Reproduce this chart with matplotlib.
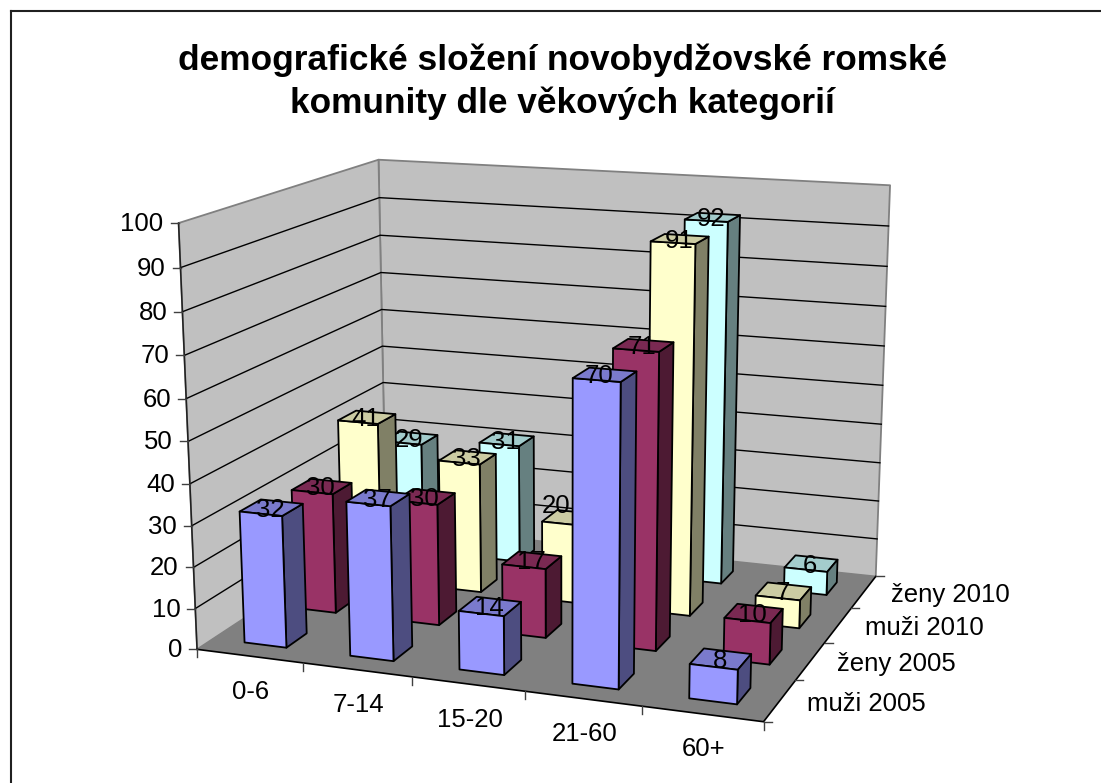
import numpy as np
import matplotlib
matplotlib.use("Agg")
import matplotlib.pyplot as plt
from mpl_toolkits.mplot3d.art3d import Poly3DCollection

plt.rcParams['font.family'] = ['Liberation Sans', 'DejaVu Sans']

W, H = 1101, 783

# ---- data ----
title = "demografické složení novobydžovské romské\nkomunity dle věkových kategorií"
categories = ["0-6", "7-14", "15-20", "21-60", "60+"]
series_names = ["muži 2005", "ženy 2005", "muži 2010", "ženy 2010"]
muzi_2005 = [32, 37, 14, 70, 8]
zeny_2005 = [30, 30, 17, 71, 10]
muzi_2010 = [41, 33, 20, 91, 7]
zeny_2010 = [29, 31, None, 92, 6]
series_values = [muzi_2005, zeny_2005, muzi_2010, zeny_2010]
z_ticks = list(range(0, 101, 10))

# face colours: front, top, side
front_colors = ["#9999FF", "#993366", "#FFFFCC", "#CCFFFF"]
top_colors = ["#7A7ACC", "#7A2952", "#CCCCA3", "#A3CCCC"]
side_colors = ["#4D4D80", "#4D1A33", "#808066", "#668080"]

# ---- camera: calibrated from the reference's axis box and ticks ----
world = np.array([
    (0, 0, 0), (5, 0, 0), (5, 4, 0), (0, 4, 0),
    (0, 0, 100), (0, 4, 100), (5, 4, 100),
    (1, 0, 0), (2, 0, 0), (5, 1, 0), (5, 2, 0), (5, 3, 0),
    (0, 0, 90), (0, 0, 30), (0, 0, 10)], float)
pixel = np.array([
    (197.7, 650), (762.3, 721.7), (875, 576), (385.5, 525.5),
    (178.3, 223.3), (379, 159.3), (890, 185.7),
    (302.3, 662.7), (411.7, 677), (796.7, 681), (825, 642.3), (851.7, 608.3),
    (180, 267.7), (192.3, 525), (195.7, 608.3)], float)


def fit_camera(w3, p2):
    scale_w = np.array([1, 1, 0.05])
    scale_p = 0.001
    rows = []
    for (X, Y, Z), (u, v) in zip(w3 * scale_w, p2 * scale_p):
        rows.append([X, Y, Z, 1, 0, 0, 0, 0, -u * X, -u * Y, -u * Z, -u])
        rows.append([0, 0, 0, 0, X, Y, Z, 1, -v * X, -v * Y, -v * Z, -v])
    P = np.linalg.svd(np.array(rows))[2][-1].reshape(3, 4)
    P = np.diag([1 / scale_p, 1 / scale_p, 1.0]) @ P @ np.diag([*scale_w, 1.0])
    if P[2] @ np.array([2.5, 2, 50, 1]) < 0:
        P = -P
    return P


CAM = fit_camera(world, pixel)


def project(x, y, z):
    h = CAM @ np.array([x, y, z, 1.0])
    return h[0] / h[2], h[1] / h[2]


fig = plt.figure(figsize=(W / 100, H / 100), dpi=100, facecolor="white")
ax = fig.add_axes([0, 0, 1, 1], projection="3d", computed_zorder=False)
ax.set_axis_off()
ax.patch.set_alpha(0)
ax.apply_aspect = lambda position=None: None


def get_proj():
    vl = ax.viewLim
    to_view = np.array([
        [vl.width / W, 0, vl.x0],
        [0, -vl.height / H, vl.y1],
        [0, 0, 1.0]])
    Q = to_view @ CAM
    return np.array([Q[0], Q[1], [0, 0, 0, -1.0], Q[2]])


ax.get_proj = get_proj

NX, NY, ZMAX = len(categories), len(series_names), z_ticks[-1]

# walls and floor
walls = [
    [(0, NY, 0), (NX, NY, 0), (NX, NY, ZMAX), (0, NY, ZMAX)],
    [(0, 0, 0), (0, NY, 0), (0, NY, ZMAX), (0, 0, ZMAX)],
]
ax.add_collection3d(Poly3DCollection(walls, facecolors="#C0C0C0", edgecolors="#808080",
                                     linewidths=1.3, zorder=1), autolim=False)
ax.add_collection3d(Poly3DCollection([[(0, 0, 0), (NX, 0, 0), (NX, NY, 0), (0, NY, 0)]],
                                     facecolors="#808080", edgecolors="none", zorder=2), autolim=False)
for t in z_ticks[1:-1]:
    ax.plot([0, 0, NX], [0, NY, NY], [t, t, t], color="black", lw=1.0, zorder=1.5)
ax.plot([0, 0], [0, 0], [0, ZMAX], color="#202020", lw=1.1, zorder=2.5)
ax.plot([0, NX, NX], [0, 0, NY], [0, 0, 0], color="black", lw=1.2, zorder=2.5)

# bars, far rows first and left to right inside a row
BAR_W, BAR_D = 0.40, 0.40
order = 3.0
for j in reversed(range(NY)):
    for i in range(NX):
        v = series_values[j][i]
        if v is None:
            continue
        x0, x1 = i + 0.5 - BAR_W / 2, i + 0.5 + BAR_W / 2
        y0, y1 = j + 0.5 - BAR_D / 2, j + 0.5 + BAR_D / 2
        faces = [
            [(x0, y0, 0), (x1, y0, 0), (x1, y0, v), (x0, y0, v)],
            [(x0, y0, v), (x1, y0, v), (x1, y1, v), (x0, y1, v)],
            [(x1, y0, 0), (x1, y1, 0), (x1, y1, v), (x1, y0, v)],
        ]
        ax.add_collection3d(Poly3DCollection(
            faces, facecolors=[front_colors[j], top_colors[j], side_colors[j]],
            edgecolors="black", linewidths=1.3, zorder=order), autolim=False)
        order += 0.01

# overlay in reference pixels for ticks and labels
ov = fig.add_axes([0, 0, 1, 1], facecolor="none")
ov.set_xlim(0, W)
ov.set_ylim(H, 0)
ov.set_axis_off()

FS = 18.5
TICK = "#404040"
for t in z_ticks:
    px, py = project(0, 0, t)
    ov.plot([px - 8, px], [py, py], color=TICK, lw=1.0)
    ov.text(px - 15, py + 1, str(t), ha="right", va="center", fontsize=FS, color="black")
for i in range(NX + 1):
    px, py = project(i, 0, 0)
    ov.plot([px, px], [py, py + 8], color=TICK, lw=1.0)
for i, name in enumerate(categories):
    px, py = project(i + 0.5, 0, 0)
    ov.text(px + 1.5, py + 35.5, name, ha="center", va="center", fontsize=FS, color="black")
for j in range(NY + 1):
    px, py = project(NX, j, 0)
    ov.plot([px, px + 8], [py, py], color=TICK, lw=1.0)
for j, name in enumerate(series_names):
    px, py = project(NX, j + 0.5, 0)
    ov.text(px + 27, py + 3, name, ha="left", va="center", fontsize=FS, color="black")

LABEL_SHIFT = {"20": (-13, -14), "70": (-5, -1)}
for j, vals in enumerate(series_values):
    for i, v in enumerate(vals):
        if v is None:
            continue
        px, py = project(i + 0.5, j + 0.5, v)
        dx, dy = LABEL_SHIFT.get(str(v), (0, 0))
        ov.text(px - 1 + dx, py + 2 + dy, str(v), ha="center", va="center", fontsize=FS, color="black")

ov.plot([10.5, 10.5], [783, 10.5], color="#202020", lw=1.5)
ov.plot([10.5, 1101], [10.5, 10.5], color="#202020", lw=1.5)
ov.text(562.5, 81.5, title, ha="center", va="center", fontsize=25.4, fontweight="bold",
        color="black", linespacing=1.36)

fig.savefig("out.png", dpi=100)
